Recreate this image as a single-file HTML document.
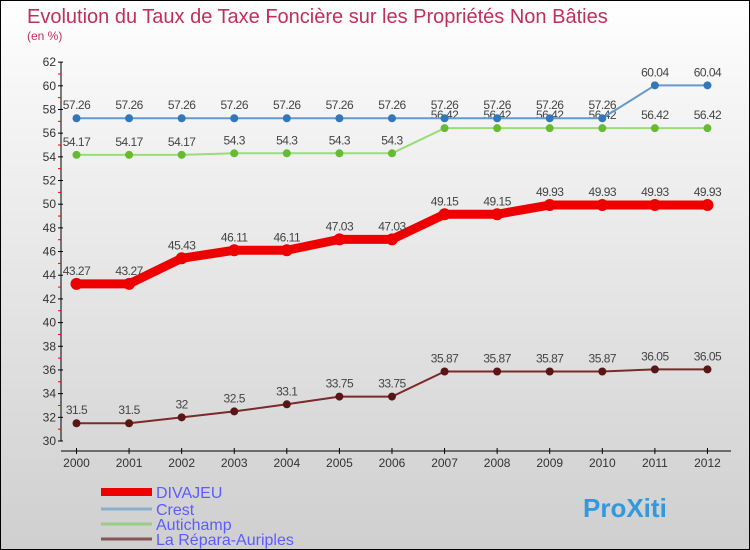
<!DOCTYPE html>
<html><head><meta charset="utf-8"><style>
body{margin:0}
#c{width:750px;height:550px;position:relative;box-sizing:border-box;border:1px solid #000;background:linear-gradient(#fff,#f4f4f4 20%,#cfcfcf);font-family:"Liberation Sans",sans-serif;overflow:hidden}
</style></head><body>
<div id="c">
<svg id="s" width="750" height="550" style="position:absolute;left:0;top:0">
<text x="26" y="22" font-size="20" fill="#c0305a">Evolution du Taux de Taxe Foncière sur les Propriétés Non Bâties</text>
<text x="26" y="39" font-size="12" fill="#c0305a">(en %)</text>
</svg>
</div>
<script>
const years=[2000,2001,2002,2003,2004,2005,2006,2007,2008,2009,2010,2011,2012];
const divajeu=[43.27,43.27,45.43,46.11,46.11,47.03,47.03,49.15,49.15,49.93,49.93,49.93,49.93];
const crest=[57.26,57.26,57.26,57.26,57.26,57.26,57.26,57.26,57.26,57.26,57.26,60.04,60.04];
const autichamp=[54.17,54.17,54.17,54.3,54.3,54.3,54.3,56.42,56.42,56.42,56.42,56.42,56.42];
const repara=[31.5,31.5,32,32.5,33.1,33.75,33.75,35.87,35.87,35.87,35.87,36.05,36.05];
const yTicks=[30,32,34,36,38,40,42,44,46,48,50,52,54,56,58,60,62];
const seriesNames=["DIVAJEU","Crest","Autichamp","La Répara-Auriples"];
const NS="http://www.w3.org/2000/svg",s=document.getElementById('s');
const X=i=>75.5+i*52.58, Y=v=>440-(v-30)*11.84;
function el(t,a,p){const e=document.createElementNS(NS,t);for(const k in a)e.setAttribute(k,a[k]);(p||s).appendChild(e);return e;}
let ax=el('line',{x1:60,y1:Y(62),x2:60,y2:Y(30),stroke:'#000'});

let xa=el('line',{x1:60,y1:450,x2:730,y2:450,stroke:'#000'});

yTicks.forEach(v=>{el('line',{x1:57,y1:Y(v),x2:62,y2:Y(v),stroke:'#000'});if(v<62)el('line',{x1:57,y1:Y(v+1),x2:60,y2:Y(v+1),stroke:'#e00'});
 const t=el('text',{x:55,y:Y(v)+4,'font-size':12,fill:'#333','text-anchor':'end'});t.textContent=v;
 });
years.forEach((y,i)=>{el('line',{x1:X(i),y1:447,x2:X(i),y2:453,stroke:'#000'});
 const t=el('text',{x:X(i),y:466,'font-size':12,fill:'#333','text-anchor':'middle'});t.textContent=y;
 });
function series(d,col,w,r,dot,name){
 const p=el('polyline',{points:d.map((v,i)=>X(i)+','+Y(v)).join(' '),fill:'none',stroke:col,'stroke-width':w,'stroke-linejoin':'round'});
 
 d.forEach((v,i)=>{const c=el('circle',{cx:X(i),cy:Y(v),r:r,fill:dot});
  
  const t=el('text',{x:X(i),y:Y(v)-9,'font-size':12,fill:'#444','text-anchor':'middle','letter-spacing':'-0.5'});t.textContent=v;
  });
}
series(repara,'#7a2a2a',2,4,'#5a1515','repara');
series(autichamp,'#99dd77',2,4,'#66bb33','autichamp');
series(crest,'#6699cc',2,4,'#3377bb','crest');
series(divajeu,'#ee0000',9,6,'#ee0000','divajeu');
const lc=['#ee0000','#88b0cc','#99cc88','#8a5555'],lw=[8,3,3,3],ly=[491,508,523,538];
seriesNames.forEach((n,i)=>{const l=el('line',{x1:100,y1:ly[i],x2:151,y2:ly[i],stroke:lc[i],'stroke-width':lw[i]});
 
 const t=el('text',{x:155,y:ly[i]+6,'font-size':16,fill:'#5c5cff'});t.textContent=n;
 });
const lg=el('text',{x:582,y:516,'font-size':26,'font-weight':'bold',fill:'#3399dd'});lg.textContent='ProXiti';

</script>
</body></html>
